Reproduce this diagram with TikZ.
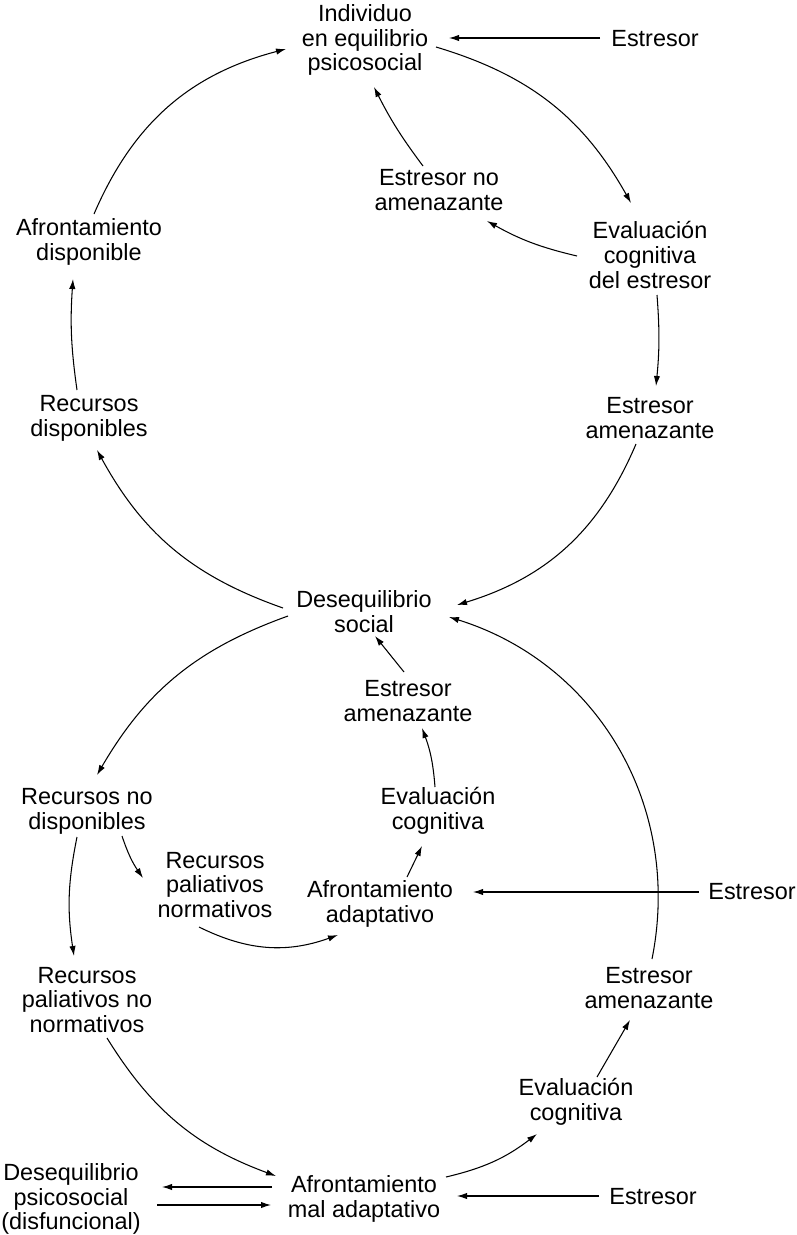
\documentclass[tikz,border=0pt]{standalone}
\usepackage{fontspec}
\setmainfont{Liberation Sans}
\usepackage{tikz}
\usetikzlibrary{arrows.meta,calc}
\tikzset{
  lbl/.style={align=center,inner sep=0pt,font=\fontsize{20}{21.2}\selectfont},
  arr/.style={-{Latex[length=3mm,width=1.9mm]},line width=0.9pt},
}

\begin{document}
\begin{tikzpicture}[x=0.3mm,y=-0.3mm]
  \useasboundingbox (0,0) rectangle (796,1235);

  \node[lbl] (ind) at (365,40) {Individuo\\en equilibrio\\psicosocial};
  \node[lbl] (strA) at (655,39) {Estresor};
  \node[lbl] (noam) at (439,190) {Estresor no\\amenazante};
  \node[lbl] (eval) at (650,255) {Evaluación\\cognitiva\\del estresor};
  \node[lbl] (afdis) at (89,242) {Afrontamiento\\disponible};
  \node[lbl] (recdis) at (89,418) {Recursos\\disponibles};
  \node[lbl] (amen) at (650,418) {Estresor\\amenazante};
  \node[lbl] (deseq) at (364,612) {Desequilibrio\\social};
  \node[lbl] (amen2) at (408,701) {Estresor\\amenazante};
  \node[lbl] (recno) at (87,811) {Recursos no\\disponibles};
  \node[lbl] (eval2) at (438,811) {Evaluación\\cognitiva};
  \node[lbl] (palnorm) at (215,885) {Recursos\\paliativos\\normativos};
  \node[lbl] (afad) at (380,904) {Afrontamiento\\adaptativo};
  \node[lbl] (strB) at (752,892) {Estresor};
  \node[lbl] (palno) at (87,1000) {Recursos\\paliativos no\\normativos};
  \node[lbl] (amen3) at (649,988) {Estresor\\amenazante};
  \node[lbl] (eval3) at (576,1102) {Evaluación\\cognitiva};
  \node[lbl] (deseqps) at (71,1199) {Desequilibrio\\psicosocial\\(disfuncional)};
  \node[lbl] (afmal) at (364,1199) {Afrontamiento\\mal adaptativo};
  \node[lbl] (strC) at (653,1197) {Estresor};

  \draw[arr] ($(strA)+(-55,-1)$) -- ($(ind)+(84,-2)$);
  \draw[arr] ($(ind)+(71,7)$) to[bend left=22] ($(eval)+(-19,-52)$);
  \draw[arr] ($(afdis)+(5,-28)$) to[bend left=26] ($(ind)+(-79,9)$);
  \draw[arr] ($(noam)+(-16,-24)$) to[bend left=5] ($(ind)+(9,47)$);
  \draw[arr] ($(eval)+(-73,1)$) to[bend left=8] ($(noam)+(48,31)$);
  \draw[arr] ($(eval)+(7,40)$) to[bend left=5] ($(amen)+(6,-32)$);
  \draw[arr] ($(recdis)+(-12,-28)$) to[bend left=6] ($(afdis)+(-16,37)$);
  \draw[arr] ($(deseq)+(-81,-4)$) to[bend left=21] ($(recdis)+(8,32)$);
  \draw[arr] ($(amen)+(-14,26)$) to[bend left=25] ($(deseq)+(93,-7)$);
  \draw[arr] ($(deseq)+(-76,4)$) to[bend right=20] ($(recno)+(10,-36)$);
  \draw[arr] ($(amen2)+(-4,-29)$) -- ($(deseq)+(11,24)$);
  \draw[arr] ($(eval2)+(-3,-24)$) to[bend right=8] ($(amen2)+(14,27)$);
  \draw[arr] ($(afad)+(27,-27)$) -- ($(eval2)+(-16,35)$);
  \draw[arr] ($(strB)+(-53,0)$) -- ($(afad)+(93,-12)$);
  \draw[arr] ($(recno)+(35,25)$) to[bend right=8] ($(palnorm)+(-72,-7)$);
  \draw[arr] ($(palnorm)+(-16,42)$) to[bend right=23] ($(afad)+(-42,31)$);
  \draw[arr] ($(recno)+(-10,26)$) to[bend right=10] ($(palno)+(-13,-44)$);
  \draw[arr] ($(amen3)+(3,-29)$) to[bend right=42] ($(deseq)+(85,5)$);
  \draw[arr] ($(palno)+(20,38)$) to[bend right=19] ($(afmal)+(-88,-23)$);
  \draw[arr] ($(afmal)+(82,-22)$) to[bend right=12] ($(eval3)+(-39,32)$);
  \draw[arr] ($(eval3)+(21,-25)$) -- ($(amen3)+(-19,32)$);
  \draw[arr] ($(afmal)+(-92,-12)$) -- ($(deseqps)+(91,-12)$);
  \draw[arr] ($(deseqps)+(86,6)$) -- ($(afmal)+(-93,6)$);
  \draw[arr] ($(strC)+(-54,-1)$) -- ($(afmal)+(93,-3)$);
\end{tikzpicture}
\end{document}
